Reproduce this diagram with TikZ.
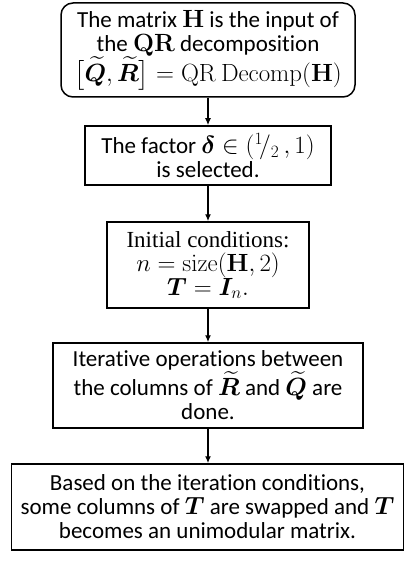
\documentclass[tikz,border=0pt]{standalone}
\usepackage{amsmath,bm}
\usepackage[no-math]{fontspec}
\setmainfont[Ligatures={NoCommon}]{Carlito}
\newfontfamily\serifbox{Liberation Serif}
\usetikzlibrary{arrows.meta}
\tikzset{
  box/.style={draw, line width=1.5pt, align=center, inner sep=0pt,
    font=\fontsize{23}{24}\selectfont},
  flow/.style={line width=1.3pt, -{Latex[length=7pt,width=6pt]}}
}
\begin{document}
\begin{tikzpicture}[x=1pt,y=-1pt]
\useasboundingbox (0,0) rectangle (406,561);
\node[box, rounded corners=12pt, minimum width=294pt, minimum height=94pt] (b1) at (208,50)
  {The matrix $\mathbf{H}$ is the input of\\the $\mathbf{QR}$ decomposition\\
   $\bigl[\bm{\widetilde{Q}},\bm{\widetilde{R}}\bigr]=\mathrm{QR\ Decomp}(\mathbf{H})$};
\node[box, minimum width=246pt, minimum height=59pt] (b2) at (208,155.5)
  {The factor $\bm{\delta}\in({}^{1}\!/_{2}\,,1)$\\is selected.};
\node[box, minimum width=202pt, minimum height=86pt] (b3) at (208,265)
  {\serifbox Initial conditions:\\$n=\mathrm{size}(\mathbf{H},2)$\\$\bm{T}=\bm{I}_{n}.$};
\node[box, minimum width=310pt, minimum height=85pt] (b4) at (208,385.5)
  {Iterative operations between\\the columns of $\bm{\widetilde{R}}$ and $\bm{\widetilde{Q}}$ are\\done.};
\node[box, minimum width=392pt, minimum height=86pt] (b5) at (207.5,507)
  {Based on the iteration conditions,\\some columns of $\bm{T}$ are swapped and $\bm{T}$\\becomes an unimodular matrix.};
\draw[flow] (b1.south) -- (b2.north);
\draw[flow] (b2.south) -- (b3.north);
\draw[flow] (b3.south) -- (b4.north);
\draw[flow] (b4.south) -- (b4.south |- b5.north);
\end{tikzpicture}
\end{document}
